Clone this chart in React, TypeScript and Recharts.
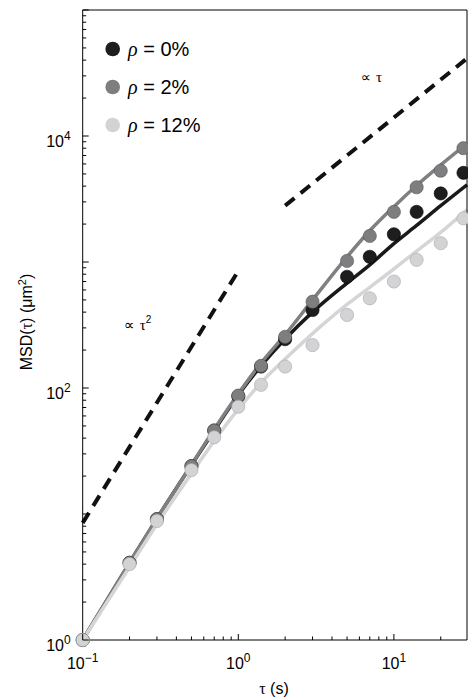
import React from 'react';
import { ComposedChart, Line, Scatter, XAxis, YAxis } from 'recharts';

// measured lag times (s)
const tau = [0.1, 0.2, 0.3, 0.5, 0.7, 1, 1.4, 2, 3, 5, 7, 10, 14, 20, 28];
// MSD data (um^2)
const msdRho0 = [1, 4.1, 9.1, 24, 46, 86, 148, 244, 416, 764, 1100, 1660, 2500, 3500, 5100];
const msdRho2 = [1, 4.1, 9.1, 24, 46, 87, 150, 255, 484, 1020, 1610, 2500, 3920, 5300, 8000];
const msdRho12 = [1, 4.0, 8.8, 22.3, 40.6, 71, 106, 148, 219, 380, 515, 700, 1040, 1410, 2220];

// model fits
const tauFit = [0.1, 0.2, 0.3, 0.5, 0.7, 1, 1.4, 2, 3, 5, 7, 10, 14, 20, 29.5];
const fitRho0 = [1, 4.1, 9.2, 24.5, 46, 88, 150, 245, 400, 680, 950, 1400, 1950, 2800, 4100];
const fitRho2 = [1, 4.1, 9.2, 24.5, 47, 90, 158, 265, 500, 1100, 1770, 2750, 4050, 5890, 8700];
const fitRho12 = [1, 3.8, 8.3, 21, 38, 68, 110, 170, 270, 460, 630, 880, 1220, 1720, 2600];

// guide lines
const guideT2X = [0.1, 1];
const guideT2Y = [8.5, 850];
const guideT1X = [2, 29.5];
const guideT1Y = [2800, 41300];

// axes
const xDomain = [0.1, 29.5];
const yDomain = [1, 100000];
const xTicks = [0.1, 0.2, 0.3, 0.4, 0.5, 0.6, 0.7, 0.8, 0.9, 1, 2, 3, 4, 5, 6, 7, 8, 9, 10, 20];
const yDecades = [1, 10, 100, 1000, 10000];
const yMultipliers = [1, 2, 3, 4, 5, 6, 7, 8, 9];
const yTicks = [...yDecades.flatMap((d) => yMultipliers.map((m) => m * d)), 100000];
const xLabeled = [0.1, 1, 10];
const yLabeled = [1, 100, 10000];

const legendLabels = ['0%', '2%', '12%'];

const pts = (xs: number[], ys: number[]) => xs.map((x, i) => ({ x, y: ys[i] }));

const SANS = 'Liberation Sans, Arial, Helvetica, sans-serif';
const SERIF = 'Liberation Serif, Times New Roman, serif';

const isPow10 = (v: number) => Math.abs(Math.log10(v) - Math.round(Math.log10(v))) < 1e-9;
const near = (a: number, list: number[]) => list.some((b) => Math.abs(a - b) / b < 1e-9);
const expStr = (v: number) => {
  const e = Math.round(Math.log10(v));
  return e < 0 ? '\u2212' + -e : String(e);
};

const MAJ = 6;
const MIN = 3.5;

const BottomTick = (props: any) => {
  const { x, y, payload } = props;
  const v = payload.value;
  const len = isPow10(v) ? MAJ : MIN;
  return (
    <g>
      <line x1={x} y1={y} x2={x} y2={y - len} stroke="#000" strokeWidth={1} />
      {near(v, xLabeled) && (
        <text x={x} y={y + 29} textAnchor="middle" fontSize={16} fontFamily={SANS} fill="#000">
          10
          <tspan dy={-7} fontSize={12}>
            {expStr(v)}
          </tspan>
        </text>
      )}
    </g>
  );
};

const TopTick = (props: any) => {
  const { x, y, payload } = props;
  const len = isPow10(payload.value) ? MAJ : MIN;
  return <line x1={x} y1={y} x2={x} y2={y + len} stroke="#000" strokeWidth={1} />;
};

const LeftTick = (props: any) => {
  const { x, y, payload } = props;
  const v = payload.value;
  const len = isPow10(v) ? MAJ : MIN;
  return (
    <g>
      <line x1={x} y1={y} x2={x + len} y2={y} stroke="#000" strokeWidth={1} />
      {near(v, yLabeled) && (
        <text x={x - 12} y={y + 11} textAnchor="end" fontSize={16} fontFamily={SANS} fill="#000">
          10
          <tspan dy={-7} fontSize={12}>
            {expStr(v)}
          </tspan>
        </text>
      )}
    </g>
  );
};

const RightTick = (props: any) => {
  const { x, y, payload } = props;
  const len = isPow10(payload.value) ? MAJ : MIN;
  return <line x1={x} y1={y} x2={x - len} y2={y} stroke="#000" strokeWidth={1} />;
};

const colors = {
  rho0: { fill: '#1e1e1e', stroke: '#000000', line: '#1a1a1a' },
  rho2: { fill: '#7e7e80', stroke: '#555555', line: '#808082' },
  rho12: { fill: '#d2d3d5', stroke: '#a8a8a8', line: '#d5d5d7' },
};
const legendColors = [colors.rho0.fill, colors.rho2.fill, colors.rho12.fill];

const dot = (fill: string, stroke: string) => (p: any) =>
  <circle cx={p.cx} cy={p.cy} r={6.6} fill={fill} stroke={stroke} strokeWidth={0.6} />;

const axisCommonX = {
  dataKey: 'x',
  type: 'number' as const,
  scale: 'log' as const,
  domain: xDomain,
  ticks: xTicks,
  interval: 0,
  tickSize: 0,
  tickMargin: 0,
  tickLine: false,
  axisLine: { stroke: '#000', strokeWidth: 1 },
};
const axisCommonY = {
  dataKey: 'y',
  type: 'number' as const,
  scale: 'log' as const,
  domain: yDomain,
  ticks: yTicks,
  interval: 0,
  tickSize: 0,
  tickMargin: 0,
  tickLine: false,
  axisLine: { stroke: '#000', strokeWidth: 1 },
};

export default function App() {
  return (
    <div style={{ position: 'absolute', left: 0, top: 0, width: 468, height: 699, background: '#fff' }}>
      <ComposedChart width={468} height={699} margin={{ top: 0, right: 0, bottom: 0, left: 0 }}>
        <XAxis xAxisId="b" {...axisCommonX} height={59} tick={<BottomTick />} />
        <XAxis xAxisId="t" orientation="top" {...axisCommonX} height={10} tick={<TopTick />} />
        <YAxis yAxisId="l" {...axisCommonY} width={82.7} tick={<LeftTick />} />
        <YAxis yAxisId="r" orientation="right" {...axisCommonY} width={1} tick={<RightTick />} />

        <Line xAxisId="b" yAxisId="l" data={pts(guideT2X, guideT2Y)} dataKey="y" type="linear" stroke="#111" strokeWidth={4} strokeDasharray="12 8" dot={false} isAnimationActive={false} />
        <Line xAxisId="b" yAxisId="l" data={pts(guideT1X, guideT1Y)} dataKey="y" type="linear" stroke="#111" strokeWidth={4} strokeDasharray="12 8" dot={false} isAnimationActive={false} />

        <Line xAxisId="b" yAxisId="l" data={pts(tauFit, fitRho0)} dataKey="y" type="monotone" stroke={colors.rho0.line} strokeWidth={3.5} dot={false} isAnimationActive={false} />
        <Line xAxisId="b" yAxisId="l" data={pts(tauFit, fitRho2)} dataKey="y" type="monotone" stroke={colors.rho2.line} strokeWidth={3.5} dot={false} isAnimationActive={false} />
        <Line xAxisId="b" yAxisId="l" data={pts(tauFit, fitRho12)} dataKey="y" type="monotone" stroke={colors.rho12.line} strokeWidth={3.5} dot={false} isAnimationActive={false} />

        <Scatter xAxisId="b" yAxisId="l" data={pts(tau, msdRho0)} dataKey="y" shape={dot(colors.rho0.fill, colors.rho0.stroke)} isAnimationActive={false} />
        <Scatter xAxisId="b" yAxisId="l" data={pts(tau, msdRho2)} dataKey="y" shape={dot(colors.rho2.fill, colors.rho2.stroke)} isAnimationActive={false} />
        <Scatter xAxisId="b" yAxisId="l" data={pts(tau, msdRho12)} dataKey="y" shape={dot(colors.rho12.fill, colors.rho12.stroke)} isAnimationActive={false} />
      </ComposedChart>

      <svg width={468} height={699} style={{ position: 'absolute', left: 0, top: 0, pointerEvents: 'none' }}>
        {legendLabels.map((lab, i) => (
          <g key={lab}>
            <circle cx={112.7} cy={49 + i * 38} r={7.3} fill={legendColors[i]} />
            <text x={128} y={56 + i * 38} fontSize={20} fontFamily={SANS} fill="#000">
              <tspan fontFamily={SERIF} fontStyle="italic">ρ</tspan>
              {' = ' + lab}
            </text>
          </g>
        ))}
        <text x={361} y={82} fontSize={14} fontFamily={SANS} fill="#000">
          <tspan fontFamily="DejaVu Sans" fontSize={14}>∝</tspan>
          <tspan fontFamily={SERIF} dx={5} fontSize={15}>τ</tspan>
        </text>
        <text x={124} y={330} fontSize={14} fontFamily={SANS} fill="#000">
          <tspan fontFamily="DejaVu Sans" fontSize={15}>∝</tspan>
          <tspan fontFamily={SERIF} dx={5} fontSize={15}>τ</tspan>
          <tspan dy={-7} fontSize={10}>2</tspan>
        </text>
        <text x={274} y={694} textAnchor="middle" fontSize={16} fontFamily={SANS} fill="#000">
          <tspan fontFamily={SERIF}>τ</tspan> (s)
        </text>
        <text
          transform="translate(32,322) rotate(-90)"
          x={0}
          y={0}
          textAnchor="middle"
          fontSize={16}
          fontFamily={SANS}
          fill="#000"
        >
          MSD(<tspan fontFamily={SERIF}>τ</tspan>) (μm<tspan dy={-6} fontSize={11}>2</tspan>
          <tspan dy={6}>)</tspan>
        </text>
      </svg>
    </div>
  );
}
